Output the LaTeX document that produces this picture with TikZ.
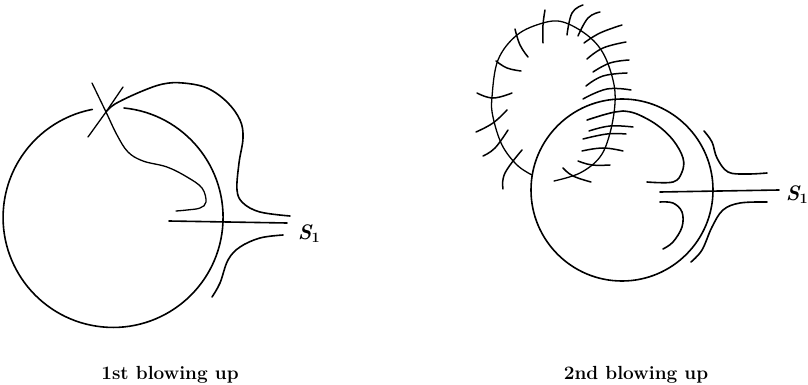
\documentclass[tikz,border=0pt]{standalone}
\usepackage{amsmath,amssymb}
\usepackage{tikz}
\tikzset{
  curve/.style={draw=black, line width=1.6pt, line cap=round},
  hair/.style={draw=black, line width=1.5pt, line cap=round},
  thin curve/.style={draw=black, line width=1.3pt, line cap=round},
  lab/.style={font=\fontsize{21}{24}\selectfont\bfseries\itshape, inner sep=0pt},
  captext/.style={font=\bfseries\fontsize{19}{22}\selectfont, inner sep=0pt}}
\begin{document}
\begin{tikzpicture}[x=1pt, y=-1pt]
    \useasboundingbox (0,0) rectangle (808,385);
    % 1st blowing up
    \draw[curve] (124,108) arc[start angle=-84.3, end angle=259.1, radius=110];
    \draw[thin curve] plot[smooth, tension=0.6] coordinates {(92,83) (106,112) (117,135) (128,152) (143,161) (167,167) (187,177) (202,188) (206,202) (200,208) (187,210) (176,211)};
    \draw[thin curve] (88,137) -- (106,112) -- (123,87);
    \draw[curve] plot[smooth, tension=0.6] coordinates {(106,112) (115,104) (140,92) (163,84) (183,83) (207,88) (227,102) (240,120) (243,138) (239,163) (237,190) (243,203) (260,212) (290,216)};
    \draw[curve] (169,221) -- (287,223);
    \draw[curve] plot[smooth, tension=0.6] coordinates {(283,235) (260,238) (240,247) (228,260) (220,283) (212,297)};
    \node[lab] (s1a) at (309,234) {S$_{\mathbf 1}$};
    \node[captext] (capa) at (170,375) {1st blowing up};
    % 2nd blowing up
    \draw[curve] (622,190) circle[radius=91];
    \draw[curve] (660,192) -- (779,190);
    \draw[curve] plot[smooth, tension=0.6] coordinates {(647,182) (673,182) (682,172) (683,158) (673,140) (657,125) (637,114) (623,111) (615,112) (603,115) (587,120)};
    \draw[curve] plot[smooth, tension=0.6] coordinates {(660,202) (673,203) (682,212) (682,227) (673,242) (663,249)};
    \draw[curve] plot[smooth, tension=0.6] coordinates {(704,131) (712,142) (717,158) (728,172) (747,174) (767,173)};
    \draw[curve] plot[smooth, tension=0.6] coordinates {(767,202) (740,203) (723,210) (712,227) (702,250) (691,262)};
    \draw[thin curve] plot[smooth, tension=0.6] coordinates {(532,175) (517,165) (502,145) (493,117) (492,97) (498,60) (517,35) (543,23) (563,22) (587,35) (603,53) (613,80) (615,103) (610,133) (600,157) (580,173) (554,181)};
    \foreach \xa/\ya/\xb/\yb/\xc/\yc in {503/189/505/173/522/150, 483/156/495/148/508/130, 476/132/493/123/507/110,
      477/93/493/98/512/93, 496/61/507/68/521/71, 515/29/520/45/528/57, 545/10/543/25/543/43,
      583/5/572/13/567/35, 600/12/588/18/578/36, 584/43/600/33/622/25, 587/59/603/48/626/42,
      593/72/610/63/629/60, 586/86/603/76/627/73, 583/99/607/89/631/90, 589/131/610/126/633/127,
      583/139/607/134/626/134, 582/151/603/148/623/151, 578/161/592/165/610/165, 563/168/573/176/591/182}
      \draw[hair] plot[smooth, tension=0.7] coordinates {(\xa,\ya) (\xb,\yb) (\xc,\yc)};
    \node[lab] (s1b) at (797,195) {S$_{\mathbf 1}$};
    \node[captext] (capb) at (636,375) {2nd blowing up};
\end{tikzpicture}
\end{document}
